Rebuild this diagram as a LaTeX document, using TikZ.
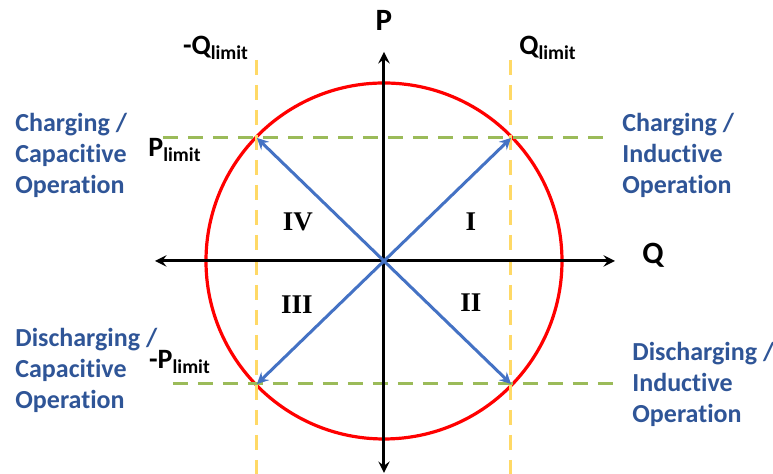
\documentclass[tikz,border=0pt]{standalone}
\usepackage{fontspec}
\setmainfont{Carlito}[Ligatures=NoCommon]
\newfontfamily\romfont{Liberation Serif}
\definecolor{opblue}{HTML}{2F5597}
\definecolor{arrblue}{HTML}{4472C4}
\definecolor{plimgreen}{HTML}{9BBB59}
\definecolor{qlimyellow}{HTML}{FFD966}

\begin{document}
\begin{tikzpicture}[x=0.5pt,y=0.5pt]
  \tikzstyle{ax}=[draw, black, line width=1.5pt, <->, >=stealth]
  \tikzstyle{lim}=[draw, line width=1.5pt, dash pattern=on 7.5pt off 5pt]
  \tikzstyle{ph}=[draw, arrblue, line width=1.5pt, ->, >=stealth]
  \tikzstyle{mode}=[font=\bfseries\fontsize{13}{15.5}\selectfont, text=opblue, align=left, anchor=west, inner sep=0pt]
  \tikzstyle{quad}=[font=\romfont\bfseries\fontsize{13.5}{16}\selectfont, inner sep=0pt]
  \tikzstyle{lbl}=[font=\bfseries\fontsize{14}{16}\selectfont, inner sep=0pt]

  \useasboundingbox (-384,-213) rectangle (389,261);

  % punkte
  \coordinate (O) at (0,0);
  \coordinate (xl) at (-229,0);
  \coordinate (xr) at (231,0);
  \coordinate (yb) at (0,-212);
  \coordinate (yt) at (0,209);
  \coordinate (c1) at (127,123);
  \coordinate (c2) at (127,-123);
  \coordinate (c3) at (-127,-123);
  \coordinate (c4) at (-127,123);

  % grenzkreis
  \draw[red, line width=1.6pt] (O) circle[radius=178];

  % P-grenzen
  \coordinate (pl1) at (-221,123);
  \coordinate (pl2) at (222,123);
  \coordinate (pl3) at (-211,-123);
  \coordinate (pl4) at (231,-123);
  \draw[lim, plimgreen] (pl1) -- (pl2);
  \draw[lim, plimgreen] (pl3) -- (pl4);

  % Q-grenzen
  \coordinate (ql1) at (-127,201);
  \coordinate (ql2) at (-127,-213);
  \coordinate (ql3) at (127,201);
  \coordinate (ql4) at (127,-213);
  \draw[lim, qlimyellow] (ql1) -- (ql2);
  \draw[lim, qlimyellow] (ql3) -- (ql4);

  % achsen
  \draw[ax] (xl) -- (xr);
  \draw[ax] (yb) -- (yt);
  \node[lbl, font=\bfseries\fontsize{15.5}{18}\selectfont] (P) at (0,241) {P};
  \node[lbl, font=\bfseries\fontsize{15.5}{18}\selectfont] (Q) at (269,6) {Q};

  % zeiger
  \foreach \c in {c1,c2,c3,c4} {
    \draw[ph] (O) -- (\c);
  }

  % grenzwerte
  \node[lbl] (qneg) at (-168,213) {-Q\textsubscript{limit}};
  \node[lbl] (qpos) at (164,213) {Q\textsubscript{limit}};
  \node[lbl] (ppos) at (-209,111) {P\textsubscript{limit}};
  \node[lbl] (pneg) at (-204,-101) {-P\textsubscript{limit}};

  % quadranten
  \node[quad] (q1) at (87,39) {I};
  \node[quad] (q2) at (87,-42) {II};
  \node[quad] (q3) at (-87,-44) {III};
  \node[quad] (q4) at (-86,39) {IV};

  % betriebsarten
  \node[mode] (chcap) at (-369,106) {Charging /\\Capacitive\\Operation};
  \node[mode] (chind) at (238,106) {Charging /\\Inductive\\Operation};
  \node[mode] (dicap) at (-369,-109) {Discharging /\\Capacitive\\Operation};
  \node[mode] (diind) at (248,-123) {Discharging /\\Inductive\\Operation};
\end{tikzpicture}
\end{document}
